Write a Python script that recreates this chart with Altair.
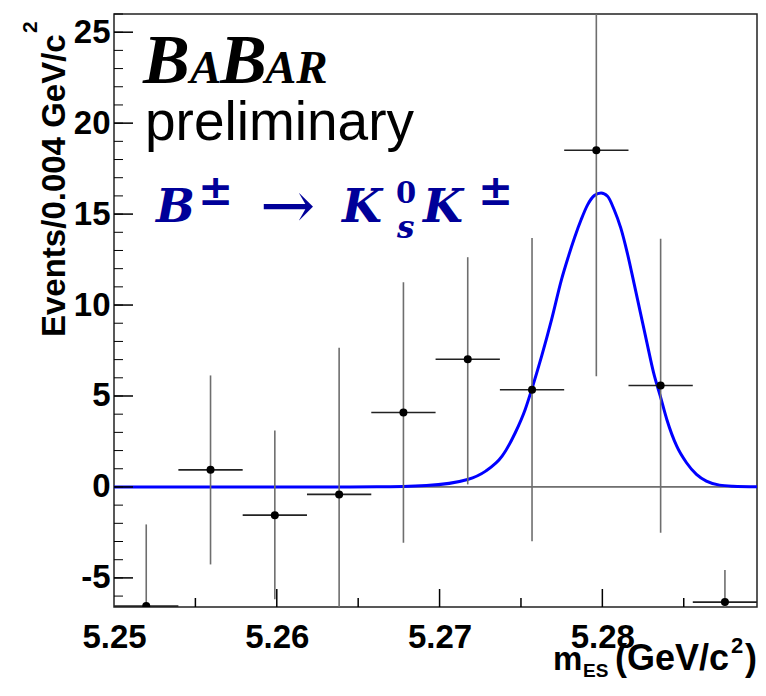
import altair as alt
import pandas as pd

# ---------------- data ----------------
bin_center = [5.25198, 5.25593, 5.25988, 5.26383, 5.26778,
              5.27173, 5.27568, 5.27963, 5.28358, 5.28753]
events = [-6.55, 0.94, -1.55, -0.41, 4.09, 7.02, 5.34, 18.51, 5.58, -6.33]
err_up = [4.49, 5.19, 4.65, 8.06, 7.16, 5.61, 8.35, 12.42, 8.07, 1.76]
err_down = [4.49, 5.20, 4.63, 8.06, 7.16, 6.88, 8.32, 12.42, 8.10, 1.76]
bin_half_width = 0.001975

fit_x = [5.2500, 5.2620, 5.26615, 5.26919, 5.27172, 5.27283, 5.27384, 5.27465,
         5.27526, 5.27566, 5.27627, 5.27688, 5.27749, 5.27789, 5.27829, 5.27870,
         5.27910, 5.27951, 5.27992, 5.28032, 5.28072, 5.28113, 5.28153, 5.28194,
         5.28234, 5.28274, 5.28315, 5.28356, 5.28396, 5.28457, 5.28517, 5.28578,
         5.28639, 5.28720, 5.28801, 5.28950]
fit_y = [0.0, 0.0, 0.01, 0.08, 0.41, 0.87, 1.69, 2.98,
         4.26, 5.36, 7.19, 9.20, 11.40, 12.60, 13.70, 14.70,
         15.52, 16.02, 16.16, 15.98, 15.25, 14.24, 12.87, 11.22,
         9.57, 7.92, 6.27, 4.99, 3.71, 2.24, 1.33, 0.69,
         0.32, 0.10, 0.04, 0.01]

x_labels = [5.25, 5.26, 5.27, 5.28]
x_major_ticks = [5.26, 5.27, 5.28]
x_minor_ticks = [5.255, 5.265, 5.275, 5.285]
y_labels = [-5, 0, 5, 10, 15, 20, 25]
y_minor_ticks = list(range(-6, 27))

X_DOMAIN = [5.25, 5.2895]
Y_DOMAIN = [-6.6, 26.0]

# ---------------- layout ----------------
W, H = 643, 593
OX, OY = 114, 14          # page position of the plot origin
NAVY = "#000099"
SANS = "Liberation Sans"
SERIF = "Liberation Serif"
MATH = "DejaVu Serif"

df = pd.DataFrame({"x": bin_center, "events": events,
                   "up": err_up, "down": err_down})
df["lo"] = df["events"] - df["down"]
df["hi"] = df["events"] + df["up"]
df["xlo"] = df["x"] - bin_half_width
df["xhi"] = df["x"] + bin_half_width

fit = pd.DataFrame({"fx": fit_x, "fy": fit_y})

xs = alt.Scale(domain=X_DOMAIN, nice=False, zero=False)
ys = alt.Scale(domain=Y_DOMAIN, nice=False, zero=False)

x_axis = alt.Axis(values=x_labels, format=".2f", ticks=False, domain=False,
                  grid=False, labelFont=SANS, labelFontSize=33,
                  labelFontWeight="bold", labelColor="black", labelPadding=14,
                  labelFlush=False, labelOverlap=False, title=None)
y_axis = alt.Axis(values=y_labels, labelExpr="'' + datum.value", ticks=False,
                  domain=False, grid=False, labelFont=SANS, labelFontSize=33,
                  labelFontWeight="bold", labelColor="black", labelPadding=4,
                  labelFlush=False, labelOverlap=False, title=None)


def X(field):
    return alt.X(field, type="quantitative", scale=xs, axis=x_axis)


def Y(field):
    return alt.Y(field, type="quantitative", scale=ys, axis=y_axis)


one = pd.DataFrame({"k": [0]})


def txt(text, x, y, size, font=SANS, weight="normal", style="normal",
        color="black", angle=0, align="left", baseline="alphabetic"):
    return alt.Chart(one).mark_text(
        text=text, font=font, fontSize=size, fontWeight=weight,
        fontStyle=style, color=color, angle=angle, align=align,
        baseline=baseline
    ).encode(x=alt.value(x - OX), y=alt.value(y - OY))


zero_line = alt.Chart(pd.DataFrame({"z": [0.0]})).mark_rule(
    color="black", strokeWidth=1).encode(y=Y("z"))

fit_line = alt.Chart(fit).mark_line(
    color="#0000ff", strokeWidth=3, interpolate="monotone", clip=True
).encode(x=X("fx"), y=Y("fy"))

vbars = alt.Chart(df).mark_rule(color="#6e6e6e", strokeWidth=1.6, clip=True).encode(
    x=X("x"), y=Y("lo"), y2="hi")
hbars = alt.Chart(df).mark_rule(color="#222222", strokeWidth=1.6, clip=True).encode(
    x=X("xlo"), x2="xhi", y=Y("events"))
dots = alt.Chart(df).mark_circle(color="black", opacity=1, size=64, clip=True).encode(
    x=X("x"), y=Y("events"))

yt_minor = alt.Chart(pd.DataFrame({"v": y_minor_ticks})).mark_rule(
    color="black", strokeWidth=1).encode(y=Y("v"), x=alt.value(0), x2=alt.value(9))
yt_major = alt.Chart(pd.DataFrame({"v": y_labels})).mark_rule(
    color="black", strokeWidth=1.5).encode(y=Y("v"), x=alt.value(0), x2=alt.value(19))
xt_minor = alt.Chart(pd.DataFrame({"v": x_minor_ticks})).mark_rule(
    color="black", strokeWidth=1.5).encode(x=X("v"), y=alt.value(H), y2=alt.value(H - 9))
xt_major = alt.Chart(pd.DataFrame({"v": x_major_ticks})).mark_rule(
    color="black", strokeWidth=1.5).encode(x=X("v"), y=alt.value(H), y2=alt.value(H - 18))

texts = [
    # BaBar logo
    txt("B", 143, 83, 70, SERIF, "bold", "italic"),
    txt("A", 190, 83, 47, SERIF, "bold", "italic"),
    txt("B", 220, 83, 70, SERIF, "bold", "italic"),
    txt("AR", 265, 83, 47, SERIF, "bold", "italic"),
    txt("preliminary", 145, 140, 55, SANS),
    # decay formula
    txt("B", 156, 222, 46, MATH, "bold", "italic", NAVY),
    txt("±", 198, 205, 42, MATH, "bold", "normal", NAVY),
    txt("→", 260, 228, 66, MATH, "normal", "normal", NAVY),
    txt("K", 342, 222, 46, MATH, "bold", "italic", NAVY),
    txt("0", 396, 203, 29, MATH, "bold", "normal", NAVY),
    txt("s", 397, 238, 31, MATH, "bold", "italic", NAVY),
    txt("K", 423, 222, 46, MATH, "bold", "italic", NAVY),
    txt("±", 478, 205, 42, MATH, "bold", "normal", NAVY),
    # x title
    txt("m", 553, 670, 33, SANS, "bold"),
    txt("ES", 583, 677, 19, SANS, "bold"),
    txt("(GeV/c", 615, 670, 36, SANS, "bold"),
    txt("2", 731, 653, 22, SANS, "bold"),
    txt(")", 745, 670, 36, SANS, "bold"),
    # y title
    txt("Events/0.004 GeV/c", 65, 337, 33, SANS, "bold", angle=270),
    txt("2", 37, 33, 21, SANS, "bold", angle=270),
]

chart = alt.layer(
    zero_line, fit_line, vbars, hbars, dots,
    yt_minor, yt_major, xt_minor, xt_major, *texts
).properties(
    width=W, height=H,
    padding={"left": 106, "top": 6, "right": 1, "bottom": 75},
    autosize=alt.AutoSizeParams(type="none"),
    background="white",
).configure_view(stroke="#222222", strokeWidth=1.5)

chart.save("out.html", embed_options={"renderer": "svg", "actions": False})
